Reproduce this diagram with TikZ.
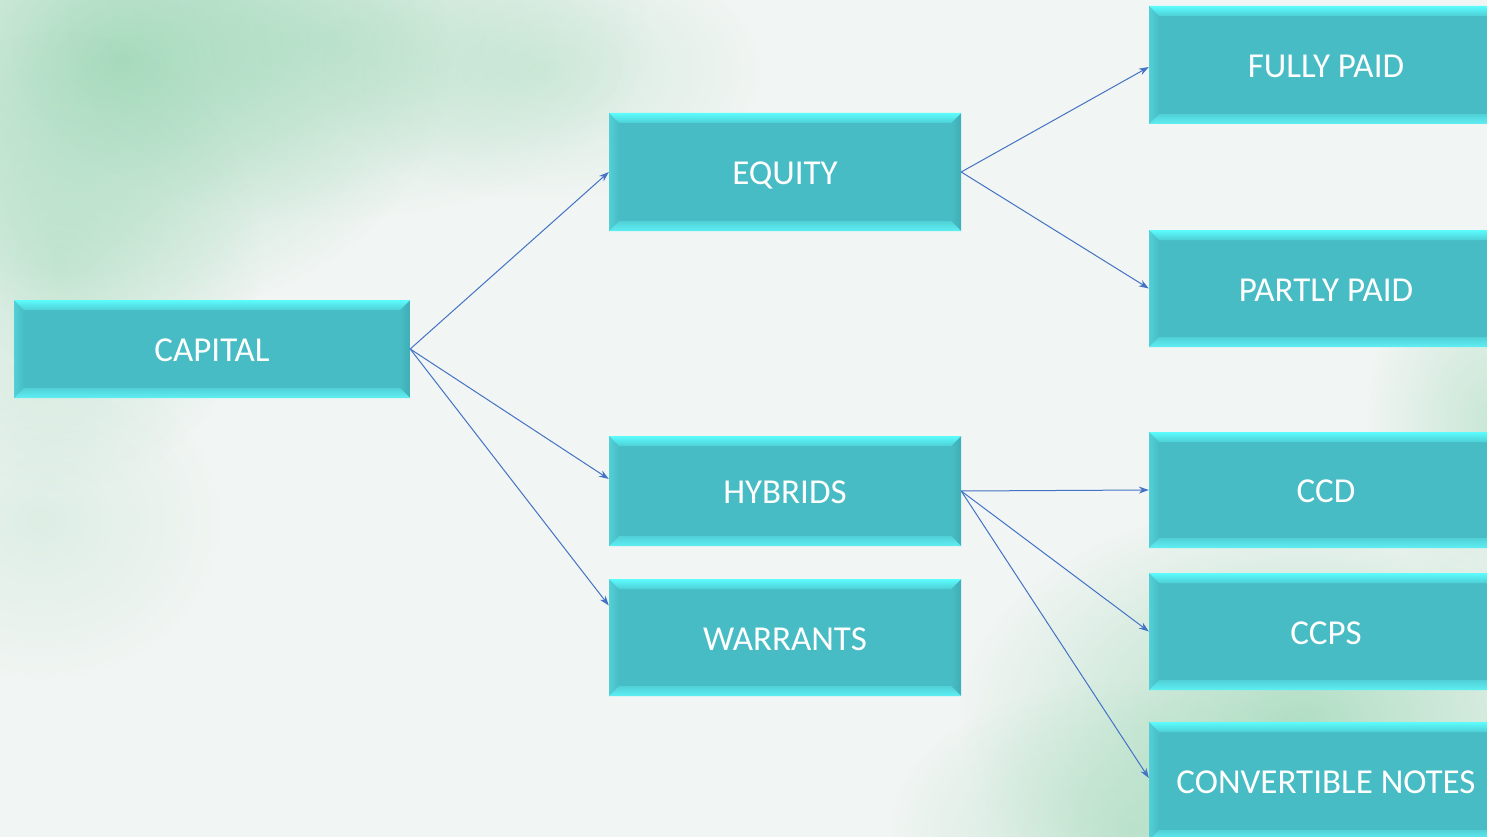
\documentclass[tikz,border=0pt]{standalone}
\usepackage{fontspec}
\setmainfont{Carlito}
\usetikzlibrary{arrows.meta,fadings}
\definecolor{bg}{HTML}{F1F5F3}
\definecolor{wash}{HTML}{8FD3AC}
\definecolor{boxfill}{HTML}{48BCC4}
\definecolor{bevtop}{HTML}{5CFCFE}
\definecolor{bevbot}{HTML}{5EEFF3}
\definecolor{bevleft}{HTML}{52D0D6}
\definecolor{bevright}{HTML}{3FAEB6}
\definecolor{link}{HTML}{4472C4}
\tikzfading[name=softspot, inner color=transparent!0, outer color=transparent!100]
\tikzset{
  stepbox/.style={
    minimum width=352pt, minimum height=116pt, inner sep=0pt,
    fill=boxfill, text=white, font=\fontsize{35}{42}\selectfont,
    text height=25pt, text depth=0pt,
    path picture={
      \coordinate (nw) at (path picture bounding box.north west);
      \coordinate (ne) at (path picture bounding box.north east);
      \coordinate (sw) at (path picture bounding box.south west);
      \coordinate (se) at (path picture bounding box.south east);
      \shade[left color=bevleft, right color=boxfill]
        (nw) -- ([xshift=10pt,yshift=-10pt]nw) -- ([xshift=10pt,yshift=10pt]sw) -- (sw) -- cycle;
      \shade[left color=boxfill, right color=bevright]
        (ne) -- ([xshift=-10pt,yshift=-10pt]ne) -- ([xshift=-10pt,yshift=10pt]se) -- (se) -- cycle;
      \shade[top color=bevtop, bottom color=boxfill!70!bevtop]
        (nw) -- (ne) -- ([xshift=-10pt,yshift=-10pt]ne) -- ([xshift=10pt,yshift=-10pt]nw) -- cycle;
      \shade[top color=boxfill!60!bevbot, bottom color=bevbot]
        (sw) -- (se) -- ([xshift=-10pt,yshift=10pt]se) -- ([xshift=10pt,yshift=10pt]sw) -- cycle;
    }},
  link/.style={draw=link, line width=1pt, -{Stealth[length=10pt,width=7pt]}}
}
\begin{document}
\begin{tikzpicture}[x=1pt,y=-1pt]
  % page and watercolour wash
  \fill[bg] (0,0) rectangle (1487,837);
  \useasboundingbox (0,0) rectangle (1487,837);
  \begin{scope}
    \clip (0,0) rectangle (1487,837);
    \fill[wash, opacity=0.7, path fading=softspot] (120,60) ellipse (330pt and 260pt);
    \fill[wash, opacity=0.4, path fading=softspot] (330,40) ellipse (320pt and 180pt);
    \fill[wash, opacity=0.4, path fading=softspot] (60,260) ellipse (200pt and 230pt);
    \fill[wash, opacity=0.3, path fading=softspot] (540,70) ellipse (220pt and 130pt);
    \fill[wash, opacity=0.2, path fading=softspot] (40,520) ellipse (180pt and 160pt);
    \fill[wash, opacity=0.65, path fading=softspot] (1300,720) ellipse (340pt and 220pt);
    \fill[wash, opacity=0.45, path fading=softspot] (1130,830) ellipse (240pt and 150pt);
    \fill[wash, opacity=0.4, path fading=softspot] (1487,420) ellipse (120pt and 180pt);

    % boxes
    \node[stepbox, minimum width=396pt, minimum height=98pt] (cap) at (212,349) {CAPITAL};
    \node[stepbox, minimum height=118pt] (eq)  at (785,172) {EQUITY};
    \node[stepbox, minimum height=110pt] (hyb) at (785,491) {HYBRIDS};
    \node[stepbox, minimum height=117pt] (war) at (785,637.5) {WARRANTS};
    \node[stepbox, minimum width=354pt, minimum height=118pt] (fp) at (1326,65) {FULLY PAID};
    \node[stepbox, minimum width=354pt, minimum height=117pt] (pp) at (1326,288.5) {PARTLY PAID};
    \node[stepbox, minimum width=354pt, minimum height=116pt] (ccd) at (1326,490) {CCD};
    \node[stepbox, minimum width=354pt, minimum height=117pt] (ccps) at (1326,631.5) {CCPS};
    \node[stepbox, minimum width=354pt, minimum height=118pt] (cn) at (1326,781) {CONVERTIBLE NOTES};

    % connectors
    \draw[link] (cap.east) -- (eq.west);
    \draw[link] (cap.east) -- ([yshift=12pt]hyb.west);
    \draw[link] (cap.east) -- ([yshift=32pt]war.west);
    \draw[link] (eq.east) -- ([yshift=-2pt]fp.west);
    \draw[link] (eq.east) -- (pp.west);
    \draw[link] (hyb.east) -- (ccd.west);
    \draw[link] (hyb.east) -- (ccps.west);
    \draw[link] (hyb.east) -- ([yshift=3pt]cn.west);
  \end{scope}
\end{tikzpicture}
\end{document}
